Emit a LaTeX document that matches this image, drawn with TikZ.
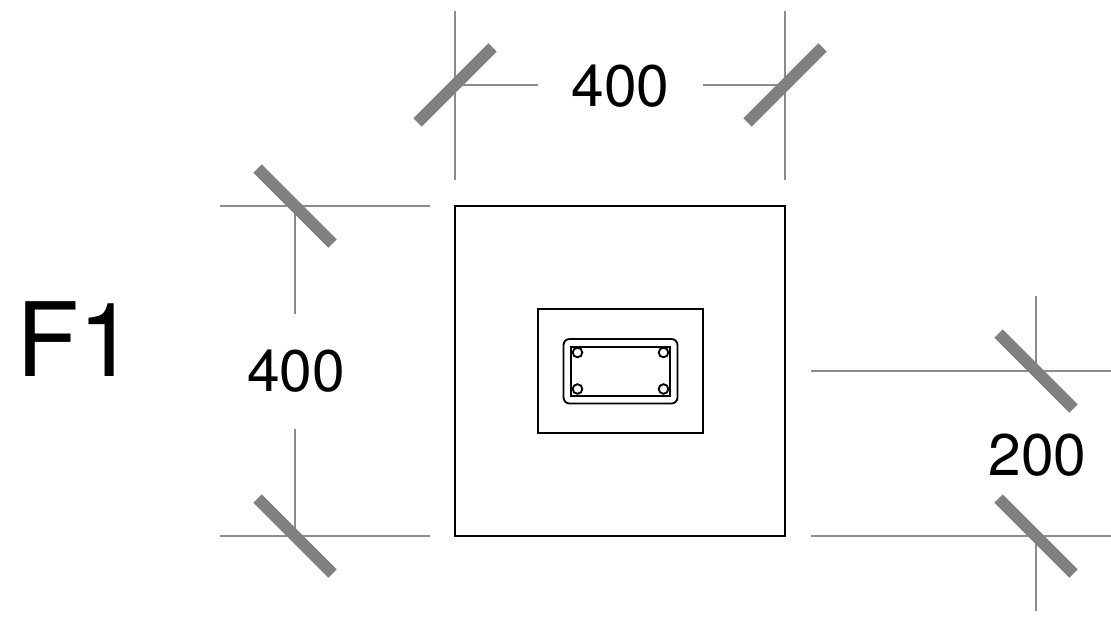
\documentclass[tikz,border=0pt]{standalone}
\usepackage{fontspec}
\setmainfont{TeX Gyre Heros}
\tikzset{
 x=0.75pt,y=-0.75pt,
 dimline/.style={draw=black!45,line width=1.3pt},
 tick/.style={draw=black!50,line width=8.8pt},
 outline/.style={draw=black,line width=1.5pt,outer sep=0pt,inner sep=0pt},
 rebar/.style={draw=black,line width=1.4pt},
 dimtext/.style={font=\fontsize{44pt}{44pt}\selectfont,inner sep=0pt,anchor=base},
}
\begin{document}
\begin{tikzpicture}
\useasboundingbox[fill=white] (0,0) rectangle (1111,618);
% outlines
\node[outline,minimum width=247.5pt,minimum height=247.5pt,anchor=north west] (foot) at (455,206) {};
\node[outline,minimum width=124.1pt,minimum height=93pt,anchor=north west] (col) at (537.5,309) {};
\draw[rebar,rounded corners=4.5pt] (563.5,339) rectangle (677.5,403.5);
\draw[rebar,line width=1.5pt] (571,346.5) rectangle (669.5,395.5);
\foreach \a/\b in {577.5/352.5,663.5/352.5,577.5/389,663.5/389}{\draw[rebar,fill=white] (\a,\b) circle (4.8);}
% dims top
\coordinate (t1a) at (455,11); \coordinate (t1b) at (455,180);
\coordinate (t2a) at (785,11); \coordinate (t2b) at (785,180);
\node[dimtext] (t400) at (620.5,106.5) {400};
\draw[dimline] (t1a)--(t1b); \draw[dimline] (t2a)--(t2b);
\draw[dimline] (t1a|-0,85) -- (538,85);
\draw[dimline] (703,85) -- (t2a|-0,85);
\draw[tick] (417.5,122.5)--(492.5,47.5);
\draw[tick] (747.5,122.5)--(822.5,47.5);
% dims left
\node[dimtext] (l400) at (296,391.5) {400};
\draw[dimline] (220,206)--(430,206);
\draw[dimline] (220,536)--(430,536);
\draw[dimline] (295,206)--(295,314);
\draw[dimline] (295,429)--(295,536);
\draw[tick] (257.5,168.5)--(332.5,243.5);
\draw[tick] (257.5,498.5)--(332.5,573.5);
% dims right
\node[dimtext] (r200) at (1037.5,475) {200};
\draw[dimline] (811,371)--(1111,371);
\draw[dimline] (811,536)--(1111,536);
\draw[dimline] (1036,296)--(1036,371);
\draw[dimline] (1036,536)--(1036,611);
\draw[tick] (998.5,333.5)--(1073.5,408.5);
\draw[tick] (998.5,498.5)--(1073.5,573.5);
\node[font=\fontsize{77pt}{77pt}\selectfont,inner sep=0pt,anchor=base west] (f1) at (16,376) {F1};
\end{tikzpicture}
\end{document}
